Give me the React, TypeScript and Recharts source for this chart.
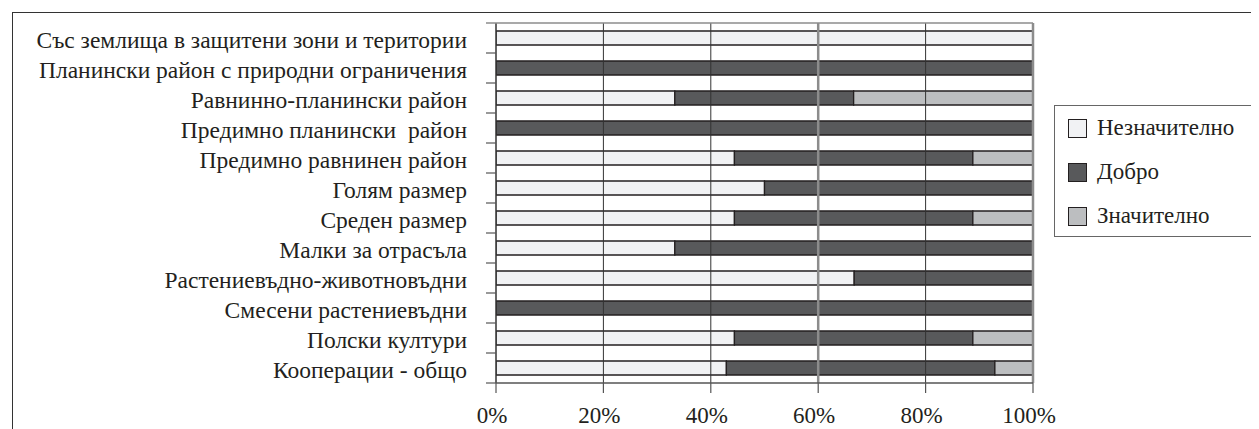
import { BarChart, Bar, XAxis, YAxis, ReferenceLine, Legend } from "recharts";

const categories = [
  "Със землища в защитени зони и територии",
  "Планински район с природни ограничения",
  "Равнинно-планински район",
  "Предимно планински  район",
  "Предимно равнинен район",
  "Голям размер",
  "Среден размер",
  "Малки за отрасъла",
  "Растениевъдно-животновъдни",
  "Смесени растениевъдни",
  "Полски култури",
  "Кооперации - общо",
];

const insignificant = [100, 0, 33.3, 0, 44.4, 50, 44.4, 33.3, 66.7, 0, 44.4, 42.9];
const good = [0, 100, 33.3, 100, 44.4, 50, 44.4, 66.7, 33.3, 100, 44.4, 50];
const significant = [0, 0, 33.4, 0, 11.2, 0, 11.2, 0, 0, 0, 11.2, 7.1];

const xTicks = [0, 20, 40, 60, 80, 100];
const darkGrid = [20, 40, 80];
const greyGrid = [60, 100];
const legendOrder = ["low", "good", "high"];

const FONT = "Liberation Serif, DejaVu Serif, serif";
const INK = "#231f20";

// plot geometry (chart size minus margins/axes)
const CHART_W = 1251;
const CHART_H = 421;
const MARGIN = { top: 15, right: 226, bottom: 0, left: 0 };
const Y_W = 488;
const X_H = 46;
const PLOT_W = CHART_W - MARGIN.right - Y_W;
const ROW_H = (CHART_H - MARGIN.top - X_H) / categories.length;
const TICK_MARGIN = 29;

const data = categories.map((name, i) => ({
  name,
  low: insignificant[i],
  good: good[i],
  high: significant[i],
}));

function CategoryTick(props: any) {
  const { x, y, payload, index } = props;
  const axisX = x + TICK_MARGIN;
  const top = y - ROW_H / 2;
  const bottom = y + ROW_H / 2;
  return (
    <g>
      {index === 0 ? (
        <line x1={axisX - 10} x2={axisX + PLOT_W} y1={top} y2={top} stroke="#8c8c8c" strokeWidth={1.5} />
      ) : (
        <line x1={axisX - 10} x2={axisX} y1={top} y2={top} stroke="#555" strokeWidth={1.2} />
      )}
      {index === categories.length - 1 && (
        <line x1={axisX - 10} x2={axisX} y1={bottom} y2={bottom} stroke="#555" strokeWidth={1.2} />
      )}
      <text
        x={x}
        y={y + 2}
        dy="0.355em"
        textAnchor="end"
        fill={INK}
        style={{ whiteSpace: "pre", fontFamily: FONT, fontSize: 23.5 }}
      >
        {payload.value}
      </text>
    </g>
  );
}

function LegendBox(props: any) {
  const items = [...(props.payload || [])].sort(
    (a: any, b: any) => legendOrder.indexOf(a.dataKey) - legendOrder.indexOf(b.dataKey)
  );
  return (
    <div
      style={{
        border: "1.5px solid #666",
        background: "#fff",
        height: 132,
        boxSizing: "border-box",
        fontFamily: FONT,
        fontSize: 23,
        color: INK,
      }}
    >
      {items.map((it: any) => (
        <div key={it.value} style={{ height: 44, display: "flex", alignItems: "center" }}>
          <span
            style={{
              display: "inline-block",
              width: 17,
              height: 17,
              marginLeft: 13,
              marginRight: 10,
              background: it.color,
              border: "1px solid #231f20",
            }}
          />
          <span>{it.value}</span>
        </div>
      ))}
    </div>
  );
}

export default function App() {
  return (
    <div style={{ position: "relative", width: CHART_W, height: CHART_H, overflow: "hidden", background: "#fff" }}>
      <div
        style={{
          position: "absolute",
          left: 4,
          top: 4,
          width: 1400,
          height: 600,
          borderLeft: "1.5px solid #333",
          borderTop: "1.5px solid #333",
        }}
      />
      <BarChart
        width={CHART_W}
        height={CHART_H}
        data={data}
        layout="vertical"
        margin={MARGIN}
        barSize={14}
      >
        {darkGrid.map((v) => (
          <ReferenceLine key={v} x={v} stroke="#333" strokeWidth={1} />
        ))}
        {greyGrid.map((v) => (
          <ReferenceLine key={v} x={v} stroke="#8c8c8c" strokeWidth={2.5} />
        ))}
        <YAxis
          type="category"
          dataKey="name"
          width={Y_W}
          tickSize={0}
          tickMargin={TICK_MARGIN}
          tickLine={false}
          axisLine={{ stroke: "#333", strokeWidth: 1.5 }}
          tick={<CategoryTick />}
          interval={0}
        />
        <XAxis
          type="number"
          domain={[0, 100]}
          ticks={xTicks}
          allowDataOverflow
          height={X_H}
          tickFormatter={(v) => `${v}%`}
          tickSize={10}
          tickMargin={14}
          axisLine={{ stroke: "#555", strokeWidth: 1.5 }}
          tickLine={{ stroke: "#555", strokeWidth: 1.2 }}
          tick={{ fontFamily: FONT, fontSize: 23, fill: INK, dx: -4 }}
        />
        <Bar dataKey="low" name="Незначително" stackId="a" fill="#f1f2f4" stroke={INK} strokeWidth={1.3} isAnimationActive={false} />
        <Bar dataKey="good" name="Добро" stackId="a" fill="#58595b" stroke={INK} strokeWidth={1.3} isAnimationActive={false} />
        <Bar dataKey="high" name="Значително" stackId="a" fill="#bcbec0" stroke={INK} strokeWidth={1.3} isAnimationActive={false} />
        <Legend
          layout="horizontal"
          align="center"
          verticalAlign="middle"
          content={<LegendBox />}
          wrapperStyle={{ position: "absolute", left: 1046, top: 97, width: 240, height: 132 }}
        />
      </BarChart>
    </div>
  );
}
